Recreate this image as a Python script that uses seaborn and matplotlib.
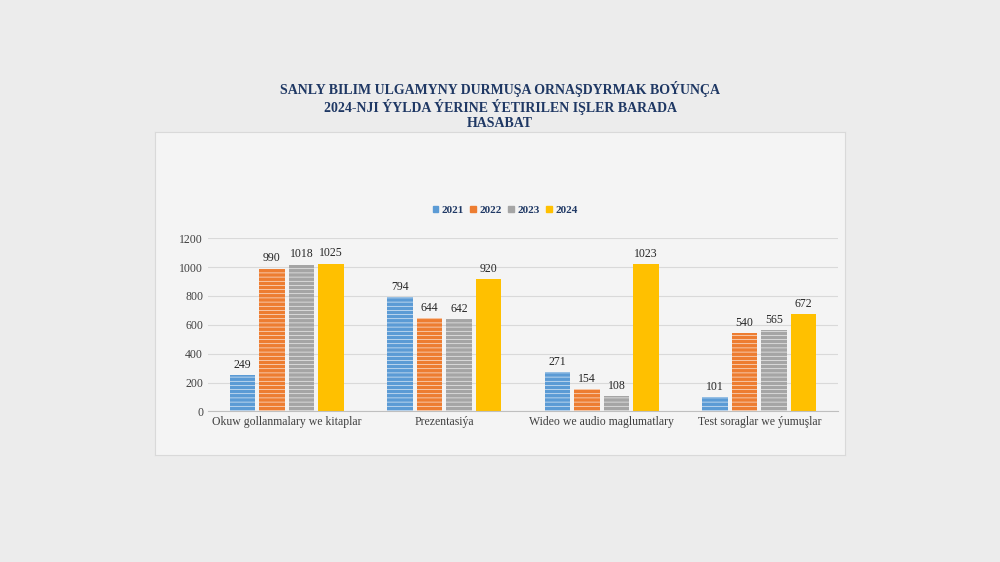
import matplotlib
matplotlib.use("Agg")
import matplotlib.pyplot as plt
from matplotlib.patches import Rectangle
import seaborn as sns
import pandas as pd

categories = ["Okuw gollanmalary we kitaplar", "Prezentasiýa",
              "Wideo we audio maglumatlary", "Test soraglar we ýumuşlar"]
years = ["2021", "2022", "2023", "2024"]
values = {
    "2021": [249, 794, 271, 101],
    "2022": [990, 644, 154, 540],
    "2023": [1018, 642, 108, 565],
    "2024": [1025, 920, 1023, 672],
}
colors = ["#5b9bd5", "#ed7d31", "#a5a5a5", "#ffc000"]

rows = [(c, y, values[y][i]) for y in years for i, c in enumerate(categories)]
df = pd.DataFrame(rows, columns=["cat", "year", "val"])

plt.rcParams["font.family"] = "Liberation Serif"
plt.rcParams["hatch.color"] = "#ffffff"
plt.rcParams["hatch.linewidth"] = 0.4

fig = plt.figure(figsize=(10, 5.62), dpi=100)
fig.patch.set_facecolor("#ececec")
# chart panel in its own background axes
bg = fig.add_axes([0.155, 0.19, 0.69, 0.575], zorder=-1)
bg.set_facecolor("#f4f4f4")
bg.set_xticks([])
bg.set_yticks([])
for s in bg.spines.values():
    s.set_color("#d9d9d9")

ax = fig.add_axes([0.208, 0.268, 0.63, 0.308])
ax.set_facecolor("none")
sns.barplot(data=df, x="cat", y="val", hue="year", palette=colors, saturation=1,
            width=0.75, gap=0.15, ax=ax, legend=False)
for i, cont in enumerate(ax.containers):
    for bar in cont:
        bar.set_linewidth(0)
        if i < 3:
            bar.set_hatch("----")
    ax.bar_label(cont, fontsize=8.5, padding=3, color="#262626")

ax.set_ylim(0, 1200)
ax.set_yticks(range(0, 1201, 200))
ax.grid(axis="y", color="#d9d9d9", lw=0.8)
ax.set_axisbelow(True)
for s in ["top", "right", "left"]:
    ax.spines[s].set_visible(False)
ax.spines["bottom"].set_color("#bfbfbf")
ax.tick_params(length=0, labelsize=8.5, colors="#404040")
ax.set_xlabel("")
ax.set_ylabel("")

handles = [Rectangle((0, 0), 1, 1, color=c) for c in colors]
fig.legend(handles, years, loc="center", bbox_to_anchor=(0.505, 0.626), ncol=4,
           frameon=False, handlelength=0.5, handleheight=0.5,
           columnspacing=0.6, handletextpad=0.3,
           prop={"weight": "bold", "size": 8}, labelcolor="#1f3864")

fig.text(0.5, 0.812, "SANLY BILIM ULGAMYNY DURMUŞA ORNAŞDYRMAK BOÝUNÇA\n"
         "2024-NJI ÝYLDA ÝERINE ÝETIRILEN IŞLER BARADA\nHASABAT",
         ha="center", va="center", fontsize=10, weight="bold", color="#1f3864",
         linespacing=1.15)

fig.savefig("out.png", dpi=100, facecolor=fig.get_facecolor())
